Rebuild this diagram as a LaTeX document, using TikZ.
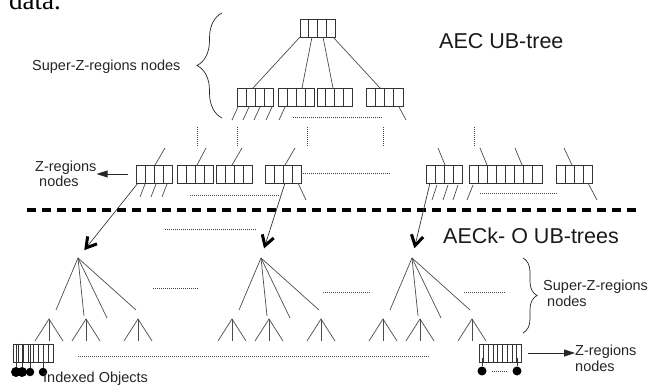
\documentclass[tikz,border=0pt]{standalone}
\usepackage{fontspec}
\setmainfont{Liberation Sans}
\newfontfamily\datafont{Liberation Serif}
\usetikzlibrary{calc,arrows.meta,decorations.pathreplacing}
\tikzset{
  zbox/.style={draw=black!80, line width=0.7pt, inner sep=0pt, outer sep=0pt, minimum height=18pt},
  zline/.style={black!80, line width=0.7pt},
  tedge/.style={black!70, line width=0.7pt},
  dotline/.style={black!75, line width=0.6pt, dash pattern=on 1pt off 1pt},
  sepline/.style={black, line width=4pt, dash pattern=on 9pt off 6pt},
  fillarrow/.style={black!85, line width=0.8pt, -{Triangle[length=11pt,width=7pt]}},
  varrow/.style={black!80, line width=0.7pt, shorten >=10pt,
                 -{Straight Barb[length=10pt,width=12pt,line width=3pt 0,black]}},
  zlabel/.style={font=\fontsize{14.5}{15.5}\selectfont, text=black!85, inner sep=0pt, align=left},
  titlelabel/.style={font=\fontsize{21.5}{24}\selectfont, text=black!90, inner sep=0pt},
  zbrace/.style={black!85, line width=0.7pt, decorate, decoration={brace, amplitude=#1}},
  zbrace/.default=14pt,
  odot/.style={circle, fill=black, inner sep=0pt, minimum size=#1},
  odot/.default=8pt,
}
% box of cells: name, left, top, cells, cell width
\newcommand{\zcells}[5]{%
  \node[zbox, minimum width=#4*#5pt, anchor=north west] (#1) at (#2,#3) {};
  \pgfmathtruncatemacro{\zlast}{#4-1}%
  \foreach \k in {1,...,\zlast}
    \draw[zline] ($(#1.north west)+(\k*#5,0)$) -- ($(#1.south west)+(\k*#5,0)$);
}
\begin{document}
\begin{tikzpicture}[x=1pt,y=-1pt]
  \useasboundingbox (0,0) rectangle (648,387);
  \clip (0,0) rectangle (648,387);
  \node[anchor=base west, inner sep=0pt, font=\datafont\fontsize{27}{27}\selectfont] (data) at (9,10) {data.};

  % AEC UB-tree
  \zcells{root}{300}{19}{4}{8.75}
  \zcells{b1}{237}{88}{4}{9}
  \zcells{b2}{278}{88}{4}{9}
  \zcells{b3}{317}{88}{4}{8.75}
  \zcells{b4}{366}{88}{4}{9.25}
  \draw[tedge] (root.south west) -- ($(b1.north west)+(16,0)$);
  \draw[tedge] ($(root.south west)+(12,0)$) -- ($(b2.north west)+(24,0)$);
  \draw[tedge] ($(root.south west)+(23,0)$) -- ($(b3.north west)+(16,0)$);
  \draw[tedge] ($(root.south west)+(33,0)$) -- ($(b4.north west)+(14,0)$);
  \foreach \dx in {-5,6,17,29}
    \draw[tedge] ($(b1.south west)+(\dx,14)$) -- ++(6,-13);
  \draw[tedge] ($(b2.south west)+(1,14)$) -- ++(6,-13);
  \draw[tedge] ($(b4.south east)+(-4,1)$) -- ++(7,13);
  \draw[dotline] ($(b2.south west)+(15,11)$) -- ($(b4.south west)+(16,11)$);
  \foreach \vx in {197,237,307,383,474}
    \draw[dotline] (\vx,127) -- (\vx,147);

  \node[zlabel, anchor=base west] (supl) at (32,70.5) {Super-Z-regions nodes};
  \draw[zbrace=25pt] (222,118) -- (222,13);
  \node[titlelabel, anchor=base west] (aec) at (439,48.3) {AEC UB-tree};

  % Z-regions level
  \zcells{l1}{136}{165}{4}{9}
  \zcells{l2}{177}{165}{4}{9}
  \zcells{l3}{216}{165}{4}{9}
  \zcells{l4}{265}{165}{4}{9}
  \zcells{r1}{426}{165}{4}{9}
  \zcells{r2}{469}{165}{4}{9}
  \zcells{r3}{505}{165}{4}{9.25}
  \zcells{r4}{556}{165}{4}{9}
  \draw[tedge] ($(l1.north west)+(19,0)$) -- ++(10,-17);
  \draw[tedge] ($(l2.north west)+(20,0)$) -- ++(9,-17);
  \draw[tedge] ($(l3.north west)+(16,0)$) -- ++(10,-17);
  \draw[tedge] ($(l4.north west)+(20,0)$) -- ++(10,-17);
  \draw[tedge] ($(r1.north west)+(19,0)$) -- ++(-7,-17);
  \draw[tedge] ($(r2.north west)+(18,0)$) -- ++(-7,-17);
  \draw[tedge] ($(r3.north west)+(17,0)$) -- ++(-7,-17);
  \draw[tedge] ($(r4.north west)+(16,0)$) -- ++(-8,-17);
  \foreach \dx in {4,15,26}
    \draw[tedge] ($(l1.south west)+(\dx,14)$) -- ++(5,-13);
  \draw[tedge] ($(l4.south east)+(-3,0)$) -- ++(8,17);
  \draw[dotline] ($(l2.south west)+(13,12)$) -- ($(l4.south west)+(15,12)$);
  \draw[dotline] ($(l4.east)+(2,-1)$) -- ++(87,0);
  \foreach \dx in {6,17,27}
    \draw[tedge] ($(r1.south west)+(\dx,17)$) -- ++(5,-15);
  \draw[tedge] ($(r2.south west)+(-2,17)$) -- ++(6,-15);
  \draw[dotline] ($(r2.south west)+(11,10)$) -- ($(r4.south west)+(2,10)$);
  \draw[tedge] ($(r4.south east)+(-4,0)$) -- ++(9,17);

  \node[zlabel, anchor=base west] (zl) at (35,187) {Z-regions\\\hspace{4pt}nodes};
  \draw[fillarrow, shorten <=8pt] (l1.west) -- (zl.east |- l1.west);

  \draw[sepline] (27,210) -- (638,210);
  \node[titlelabel, anchor=base west] (aeck) at (443,243.3) {AECk- O UB-trees};

  % AECk-O UB-trees
  \coordinate (t1) at (78,258);
  \coordinate (t2) at (261,258);
  \coordinate (t3) at (412,258);
  \draw[varrow] ($(l1.south west)+(2,0)$) -- (t1);
  \draw[varrow] ($(l4.south west)+(20,0)$) -- (t2);
  \draw[varrow] ($(r1.south west)+(4,0)$) -- (t3);
  \foreach \t in {t1,t2,t3} {
    \foreach \ex/\ey in {-22/52, 6/58, 29/60, 58/52}
      \draw[tedge] (\t) -- ++(\ex,\ey);
    \foreach \mx in {-29,8,60} {
      \coordinate (m) at ($(\t)+(\mx,61)$);
      \draw[tedge] ($(m)+(-14,22)$) -- (m) -- ($(m)+(14,22)$);
      \draw[tedge] (m) -- ++(0,22);
    }
  }
  \draw[dotline] (165,229) -- (257,229);
  \draw[dotline] (153,288) -- (199,288);
  \draw[dotline] (323,292) -- (370,292);
  \draw[dotline] (464,292) -- (505,292);
  \draw[dotline] (78,356) -- (430,356);

  \draw[zbrace=14pt] (523,258) -- (523,333);
  \node[zlabel, anchor=base west, font=\fontsize{14.5}{16.5}\selectfont] (supr) at (543,306.7) {Super-Z-regions\\\hspace{4pt}nodes};

  % leaf nodes
  \zcells{leafl}{13}{344}{8}{5}
  \node[odot=10pt] (o1) at (16,372) {};
  \node[odot=10pt] (o2) at (22,372) {};
  \node[odot=8.5pt] (o3) at (30,372) {};
  \node[odot=8.5pt] (o4) at (43,372) {};
  \foreach \i in {1,...,4}
    \draw[zline, line width=1pt] (o\i |- leafl.north) -- (o\i);
  \node[zlabel, anchor=base west] (idx) at (43,382.5) {Indexed Objects};

  \zcells{leafr}{479}{344}{9}{4.7}
  \node[odot=9pt] (p1) at (482,371) {};
  \node[odot=9pt] (p2) at (517,371) {};
  \draw[zline] ($(p1 |- leafr.south)+(0,-4)$) -- (p1);
  \draw[zline] ($(p2 |- leafr.south)+(0,-4)$) -- (p2);
  \draw[dotline, shorten <=5pt, shorten >=5pt] (p1) -- (p2);
  \node[zlabel, anchor=base west] (zr) at (575,371) {Z-regions\\nodes};
  \draw[fillarrow, shorten <=7pt] (leafr.east) -- (zr.west |- leafr.east);
\end{tikzpicture}
\end{document}
